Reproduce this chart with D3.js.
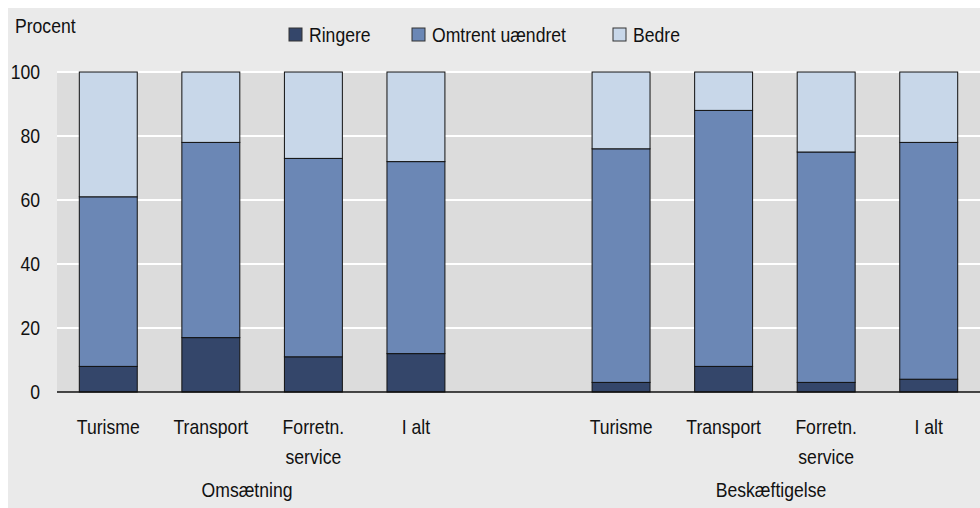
<!DOCTYPE html>
<html><head><meta charset="utf-8">
<script src="https://cdn.jsdelivr.net/npm/d3@7"></script>
<style>
html,body{margin:0;padding:0;background:#fff;}
svg{display:block;}
text{font-family:"Liberation Sans",Arial,sans-serif;font-size:20px;fill:#111;}
</style></head>
<body>
<svg id="chart" width="980" height="508"></svg>
<script>
const groups = ["Omsætning", "Beskæftigelse"];
const categories = ["Turisme", "Transport", "Forretn. service", "I alt"];
const categoryLines = [["Turisme"], ["Transport"], ["Forretn.", "service"], ["I alt"]];
const seriesNames = ["Ringere", "Omtrent uændret", "Bedre"];
const seriesColors = ["#34466a", "#6b87b5", "#c8d7e9"];
// values per group, per category (percent)
const ringere = [[8, 17, 11, 12], [3, 8, 3, 4]];
const omtrent = [[53, 61, 62, 60], [73, 80, 72, 74]];
const bedre   = [[39, 22, 27, 28], [24, 12, 25, 22]];
const yTicks = [0, 20, 40, 60, 80, 100];
const groupLabelX = [247, 771];

const SX = 0.88; // horizontal condensation of text
const svg = d3.select("#chart");
const W = 980, H = 508;
const plotL = 57, plotR = 980, plotT = 72, plotB = 392;

function label(parent, x, y, str, anchor) {
  return parent.append("text")
    .attr("transform", `translate(${x},${y}) scale(${SX},1)`)
    .attr("text-anchor", anchor || "start")
    .text(str);
}

// backgrounds
svg.append("rect").attr("x", 8).attr("y", 8).attr("width", W - 8).attr("height", H - 8).attr("fill", "#eaeaea");
svg.append("rect").attr("x", plotL).attr("y", plotT).attr("width", plotR - plotL).attr("height", plotB - plotT).attr("fill", "#dcdcdc");

// slots
const slots = [];
groups.forEach((g, gi) => {
  categories.forEach((c) => slots.push(g + "|" + c));
  if (gi < groups.length - 1) slots.push("gap");
});
const x = d3.scaleBand().domain(slots).range([plotL, plotR]).paddingInner(0.435).paddingOuter(0.2175);
const y = d3.scaleLinear().domain([0, 100]).range([plotB, plotT]);

// gridlines
svg.append("g").selectAll("line").data(yTicks.filter(d => d > 0)).join("line")
  .attr("x1", plotL).attr("x2", plotR)
  .attr("y1", d => y(d)).attr("y2", d => y(d))
  .attr("stroke", "#fff").attr("stroke-width", 2);

// y axis labels
const yAxis = d3.axisLeft(y).tickValues(yTicks).tickSize(0).tickPadding(0);
const yg = svg.append("g").attr("transform", `translate(40,0)`).call(yAxis);
yg.select(".domain").remove();
yg.selectAll("text").attr("font-size", null).attr("font-family", null)
  .style("font-size", "20px").attr("fill", "#111")
  .attr("transform", `scale(${SX},1)`);

// data rows
const rows = [];
groups.forEach((g, gi) => {
  categories.forEach((c, ci) => {
    const vals = [ringere[gi][ci], omtrent[gi][ci], bedre[gi][ci]];
    const row = { key: g + "|" + c };
    seriesNames.forEach((s, si) => row[s] = vals[si]);
    rows.push(row);
  });
});
const stacked = d3.stack().keys(seriesNames)(rows);

svg.append("g").selectAll("g").data(stacked).join("g")
  .attr("fill", (d, i) => seriesColors[i])
  .selectAll("rect").data(d => d).join("rect")
  .attr("x", d => x(d.data.key))
  .attr("width", x.bandwidth())
  .attr("y", d => y(d[1]))
  .attr("height", d => y(d[0]) - y(d[1]))
  .attr("stroke", "#111").attr("stroke-width", 1);

// zero line
svg.append("line").attr("x1", plotL).attr("x2", plotR).attr("y1", y(0)).attr("y2", y(0))
  .attr("stroke", "#111").attr("stroke-width", 1.5);

// x category labels
groups.forEach((g, gi) => {
  categories.forEach((c, ci) => {
    const cx = x(g + "|" + c) + x.bandwidth() / 2;
    categoryLines[ci].forEach((ln, li) => label(svg, cx, 434 + li * 30, ln, "middle"));
  });
  label(svg, groupLabelX[gi], 497, g, "middle");
});

// y title
label(svg, 15, 33, "Procent");

// legend
const legendX = [289, 412, 613];
const lg = svg.append("g").selectAll("g").data(seriesNames).join("g")
  .attr("transform", (d, i) => `translate(${legendX[i]},28)`);
lg.append("rect").attr("width", 13).attr("height", 13).attr("fill", (d, i) => seriesColors[i])
  .attr("stroke", "#333").attr("stroke-width", 1);
lg.each(function(d) { label(d3.select(this), 20, 14, d); });
</script>
</body></html>
